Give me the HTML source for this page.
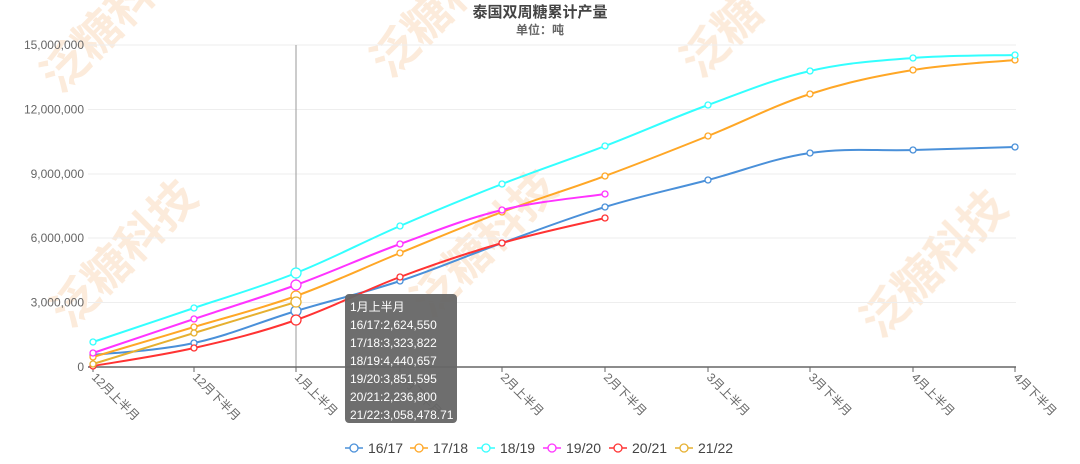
<!DOCTYPE html><html><head><meta charset="utf-8"><style>
body{margin:0;background:#fff;width:1080px;height:459px;overflow:hidden;font-family:"Liberation Sans","Noto Sans CJK SC",sans-serif}
</style></head><body>
<svg id="s" width="1080" height="459" xmlns="http://www.w3.org/2000/svg" font-family="Liberation Sans, Noto Sans CJK SC, sans-serif">
<g fill="#fbe3cc" font-size="46" font-weight="bold" opacity="0.7">
<text transform="translate(70,330) rotate(-45)">泛糖科技</text>
<text transform="translate(60,95) rotate(-45)">泛糖科</text>
<text transform="translate(430,320) rotate(-45)">泛糖科技</text>
<text transform="translate(390,80) rotate(-45)">泛糖科</text>
<text transform="translate(880,340) rotate(-45)">泛糖科技</text>
<text transform="translate(700,80) rotate(-45)">泛糖</text>
</g>
<text x="540" y="17" text-anchor="middle" font-size="15" font-weight="bold" fill="#444">泰国双周糖累计产量</text>
<text x="540" y="34" text-anchor="middle" font-size="12" font-weight="bold" fill="#666">单位：吨</text>
<g id="grid"></g>
<g id="series"></g>
<g id="legend"></g>
<g>
<rect x="345" y="294" width="112" height="129" rx="4" fill="#666" opacity="0.95"/>
<g fill="#fff" font-size="12">
<text x="350" y="311">1月上半月</text>
<text x="350" y="329">16/17:2,624,550</text>
<text x="350" y="347">17/18:3,323,822</text>
<text x="350" y="365">18/19:4,440,657</text>
<text x="350" y="383">19/20:3,851,595</text>
<text x="350" y="401">20/21:2,236,800</text>
<text x="350" y="419">21/22:3,058,478.71</text>
</g></g>
</svg>
<script>
const NS="http://www.w3.org/2000/svg";
function el(p,t,a,txt){const e=document.createElementNS(NS,t);for(const k in a)e.setAttribute(k,a[k]);if(txt)e.textContent=txt;p.appendChild(e);return e;}
const g=document.getElementById('grid');
const ys=[367,302.5,238,174,109.5,45],lab=["0","3,000,000","6,000,000","9,000,000","12,000,000","15,000,000"];
ys.forEach((y,i)=>{if(i>0)el(g,'line',{x1:88,x2:1016,y1:y,y2:y,stroke:'#eee'});el(g,'text',{x:84,y:y+4,'text-anchor':'end','font-size':12,fill:'#666'},lab[i]);});
el(g,'line',{x1:296,x2:296,y1:45,y2:367,stroke:'#999'});
el(g,'line',{x1:88,x2:1016,y1:367,y2:367,stroke:'#666','stroke-width':1.5});
const xs=[93,194,296,400,502,605,708,810,913,1015];
const cats=["12月上半月","12月下半月","1月上半月","1月下半月","2月上半月","2月下半月","3月上半月","3月下半月","4月上半月","4月下半月"];
xs.forEach((x,i)=>{el(g,'line',{x1:x,x2:x,y1:367,y2:372,stroke:'#666'});el(g,'text',{transform:`translate(${x-2},378) rotate(45)`,'font-size':12,fill:'#666'},cats[i]);});
const S=[
["16/17","#4a90d9",[355,343,311,281,243,207,180,153,150,147]],
["17/18","#ffa726",[357,327,296,253,212,176,136,94,70,60]],
["18/19","#33ffff",[342,308,273,226,184,146,105,71,58,55]],
["19/20","#ff33ff",[353,319,285,244,210,194]],
["20/21","#ff3333",[366,348,320,277,243,218]],
["21/22","#e6b030",[364,333,302]]];
const sg=document.getElementById('series');
S.forEach(([n,c,v])=>{
 const p=v.map((y,i)=>[xs[i],y]);let d=`M${p[0]}`;
 for(let i=0;i<p.length-1;i++){const p0=p[i-1]||p[i],p1=p[i],p2=p[i+1],p3=p[i+2]||p2;const t=0.18;
  d+=` C${p1[0]+(p2[0]-p0[0])*t},${p1[1]+(p2[1]-p0[1])*t} ${p2[0]-(p3[0]-p1[0])*t},${p2[1]-(p3[1]-p1[1])*t} ${p2[0]},${p2[1]}`;}
 el(sg,'path',{d,fill:'none',stroke:c,'stroke-width':2});
 p.forEach((q,i)=>el(sg,'circle',{cx:q[0],cy:q[1],r:i==2?5:3,fill:'#fff',stroke:c,'stroke-width':1.3}));
});
const lg=document.getElementById('legend');
const lx=[345,410,477,543,609,675];
S.forEach(([n,c],i)=>{const x=lx[i];el(lg,'line',{x1:x,x2:x+18,y1:448,y2:448,stroke:c,'stroke-width':1.5});el(lg,'circle',{cx:x+9,cy:448,r:4,fill:'#fff',stroke:c,'stroke-width':1.3});el(lg,'text',{x:x+23,y:453,'font-size':14,fill:'#444'},n);});
</script>
</body></html>
